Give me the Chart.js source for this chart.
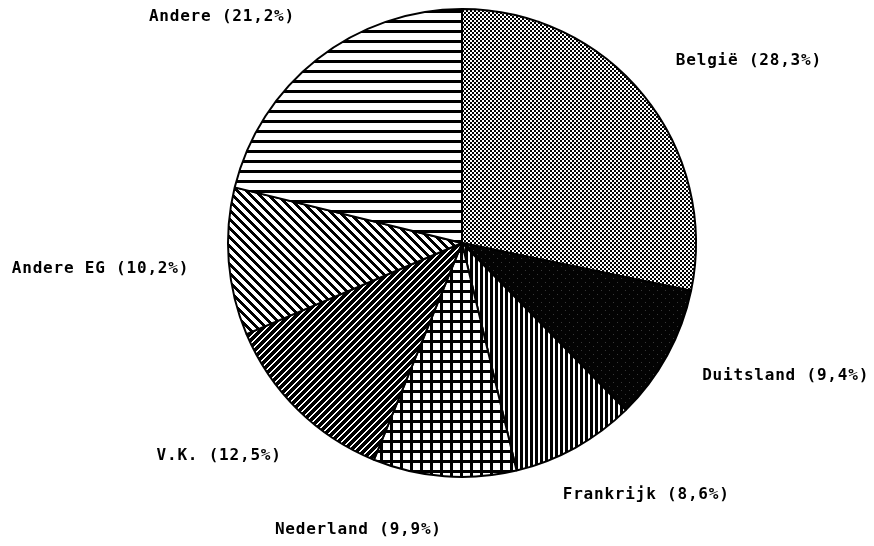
<!DOCTYPE html>
<html>
<head>
<meta charset="utf-8">
<script src="https://cdn.jsdelivr.net/npm/chart.js@4/dist/chart.umd.min.js"></script>
<style>
html,body{margin:0;padding:0;background:#fff;}
canvas{display:block;}
</style>
</head>
<body>
<canvas id="c" width="874" height="546"></canvas>
<script>
const categories = ["België", "Duitsland", "Frankrijk", "Nederland", "V.K.", "Andere EG", "Andere"];
const shares = [28.3, 9.4, 8.6, 9.9, 12.5, 10.2, 21.2];

// label anchor offsets, in units of pie radius, relative to pie centre
const labelOffsets = [[1.226,-0.779],[1.383,0.566],[0.787,1.077],[-0.443,1.226],[-1.038,0.911],[-1.545,0.111],[-1.026,-0.966]];

function tile(w, h, fn) {
  const c = document.createElement('canvas');
  c.width = w; c.height = h;
  const x = c.getContext('2d');
  const img = x.createImageData(w, h);
  for (let yy = 0; yy < h; yy++) for (let xx = 0; xx < w; xx++) {
    const v = fn(xx, yy);
    const i = (yy * w + xx) * 4;
    img.data[i] = img.data[i+1] = img.data[i+2] = v; img.data[i+3] = 255;
  }
  x.putImageData(img, 0, 0);
  return x.createPattern(c, 'repeat');
}
const mod = (a, p) => ((a % p) + p) % p;
const patterns = [
  tile(4, 4, (x, y) => ((x < 2) === (y < 2)) ? 0 : 255),               // checker
  tile(8, 8, (x, y) => ((x === 1 && y === 2) || (x === 5 && y === 6)) ? 55 : 3), // near black
  tile(5, 5, (x, y) => x < 3 ? 0 : 255),                                 // vertical lines
  tile(10, 10, (x, y) => (x < 3 || y < 3) ? 0 : 255),                    // grid
  tile(7, 7, (x, y) => mod(x + y, 7) < 5 ? 0 : 255),                     // dense "/"
  tile(9, 9, (x, y) => mod(x - y, 9) < 4 ? 0 : 255),                     // "\"
  tile(10, 10, (x, y) => y < 3 ? 0 : 255)                                // horizontal lines
];

const labelPlugin = {
  id: 'pieLabels',
  afterDraw(chart) {
    const arc = chart.getDatasetMeta(0).data[0];
    if (!arc) return;
    const cx = arc.x, cy = arc.y, r = arc.outerRadius;
    const ctx = chart.ctx;
    ctx.save();
    ctx.fillStyle = '#000';
    ctx.font = 'bold 16px "DejaVu Sans Mono"';
    ctx.letterSpacing = '0.8px';
    ctx.textAlign = 'center';
    ctx.textBaseline = 'middle';
    categories.forEach((name, i) => {
      const txt = name + ' (' + shares[i].toFixed(1).replace('.', ',') + '%)';
      ctx.fillText(txt, cx + labelOffsets[i][0] * r, cy + labelOffsets[i][1] * r);
    });
    ctx.restore();
  }
};

new Chart(document.getElementById('c'), {
  type: 'pie',
  data: {
    labels: categories,
    datasets: [{
      data: shares,
      backgroundColor: patterns,
      borderColor: '#000',
      borderWidth: 2
    }]
  },
  options: {
    responsive: false,
    animation: false,
    layout: { padding: { top: 8, bottom: 68, left: 227, right: 177 } },
    plugins: { legend: { display: false }, tooltip: { enabled: false } }
  },
  plugins: [labelPlugin]
});
</script>
</body>
</html>
